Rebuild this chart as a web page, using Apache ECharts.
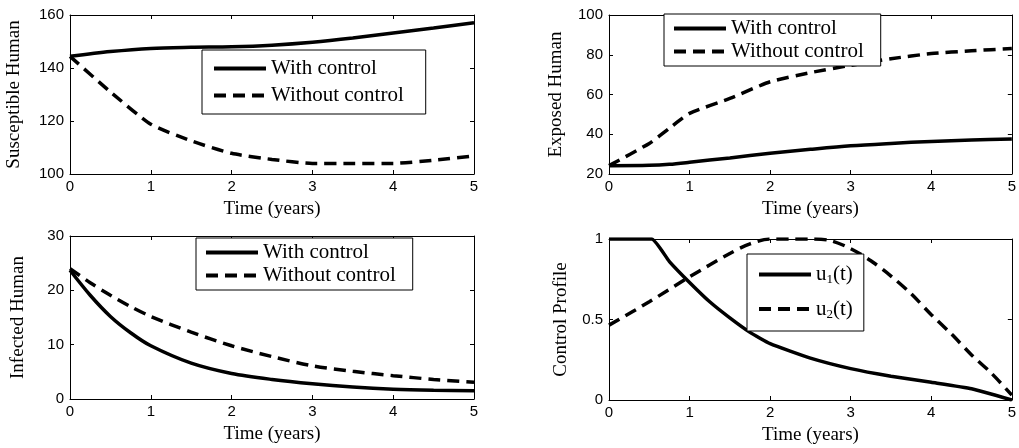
<!DOCTYPE html>
<html><head><meta charset="utf-8">
<script src="https://cdn.jsdelivr.net/npm/echarts@6/dist/echarts.min.js"></script>
<style>html,body{margin:0;padding:0;background:#fff}#c{width:1019px;height:448px}</style>
</head><body><div id="c"></div>
<script>
// Susceptible Human
const tS = [0, 0.5, 1, 1.5, 2, 2.5, 3, 3.5, 4, 4.5, 5];
const susWith = [144.4, 146.2, 147.4, 147.8, 148, 148.6, 149.7, 151.3, 153.2, 155.1, 157.1];
const susWithout = [144.4, 131, 118.8, 112.5, 107.8, 105.5, 104, 104, 104, 105.2, 106.8];
// Exposed Human
const tE = [0, 0.5, 0.75, 1, 1.5, 2, 2.5, 3, 3.5, 4, 4.5, 5];
const expWith = [24.2, 24.4, 24.9, 25.9, 28.1, 30.4, 32.4, 34.2, 35.4, 36.4, 37.1, 37.6];
const expWithout = [24.2, 35.4, 43, 50.5, 58, 66.4, 71, 74.7, 78, 80.6, 82, 83.1];
// Infected Human
const tI = [0, 0.25, 0.5, 0.75, 1, 1.5, 2, 2.5, 3, 3.5, 4, 4.5, 5];
const infWith = [23.7, 19.1, 15.2, 12.2, 9.8, 6.6, 4.7, 3.6, 2.8, 2.2, 1.8, 1.6, 1.5];
const infWithout = [24, 21.4, 19.1, 17, 15.2, 12.3, 9.8, 7.8, 6.1, 5.1, 4.3, 3.6, 3.1];
// Control profile
const tU1 = [0, 0.25, 0.53, 0.75, 1, 1.25, 1.5, 1.75, 2, 2.5, 3, 3.5, 4, 4.5, 5];
const u1 = [1, 1, 1, 0.86, 0.73, 0.61, 0.51, 0.42, 0.35, 0.26, 0.195, 0.148, 0.11, 0.07, 0];
const tU2 = [0, 0.5, 1, 1.5, 1.75, 2, 2.25, 2.5, 2.75, 3, 3.25, 3.5, 3.75, 4, 4.25, 4.5, 4.75, 5];
const u2 = [0.465, 0.61, 0.765, 0.91, 0.97, 1, 1, 1, 0.99, 0.94, 0.865, 0.77, 0.66, 0.53, 0.41, 0.28, 0.165, 0.03];

const xTicks = [0, 1, 2, 3, 4, 5];
const legendLabels = ['With control', 'Without control'];
const uLabels = ['u1', 'u2'];

function pairs(t, v) { return t.map((x, i) => [x, v[i]]); }

const grids = [
  { left: 70, top: 15, width: 404, height: 159 },
  { left: 609, top: 15, width: 406, height: 159 },
  { left: 70, top: 236, width: 404, height: 163 },
  { left: 609, top: 239, width: 406, height: 161 }
];
const yCfg = [
  { min: 100, max: 160, interval: 20, name: 'Susceptible Human', gap: 46 },
  { min: 20, max: 100, interval: 20, name: 'Exposed Human', gap: 43 },
  { min: 0, max: 30, interval: 10, name: 'Infected Human', gap: 42 },
  { min: 0, max: 1, interval: 0.5, name: 'Control Profile', gap: 38 }
];
const black = '#000';
const tickFont = { color: black, fontFamily: 'Liberation Sans, Arial, sans-serif', fontSize: 15 };
const nameFont = { color: black, fontFamily: 'Liberation Serif, Times New Roman, serif', fontSize: 19 };

const xAxis = [], yAxis = [];
grids.forEach((g, i) => {
  xAxis.push({
    type: 'value', gridIndex: i, min: 0, max: 5, interval: 1, position: 'bottom',
    name: 'Time (years)', nameLocation: 'middle', nameGap: 26, nameTextStyle: nameFont,
    axisLine: { show: true, onZero: false, lineStyle: { color: black, width: 1 } },
    axisTick: { show: true, inside: true, length: 4, lineStyle: { color: black } },
    axisLabel: Object.assign({ margin: 5 }, tickFont),
    splitLine: { show: false }
  });
  xAxis.push({
    type: 'value', gridIndex: i, min: 0, max: 5, interval: 1, position: 'top',
    axisLine: { show: true, onZero: false, lineStyle: { color: black, width: 1 } },
    axisTick: { show: true, inside: true, length: 4, lineStyle: { color: black } },
    axisLabel: { show: false }, splitLine: { show: false }
  });
  const y = yCfg[i];
  yAxis.push({
    type: 'value', gridIndex: i, min: y.min, max: y.max, interval: y.interval, position: 'left',
    name: y.name, nameLocation: 'middle', nameGap: y.gap, nameTextStyle: nameFont,
    axisLine: { show: true, onZero: false, lineStyle: { color: black, width: 1 } },
    axisTick: { show: true, inside: true, length: 4, lineStyle: { color: black } },
    axisLabel: Object.assign({ margin: 6 }, tickFont),
    splitLine: { show: false }
  });
  yAxis.push({
    type: 'value', gridIndex: i, min: y.min, max: y.max, interval: y.interval, position: 'right',
    axisLine: { show: true, onZero: false, lineStyle: { color: black, width: 1 } },
    axisTick: { show: true, inside: true, length: 4, lineStyle: { color: black } },
    axisLabel: { show: false }, splitLine: { show: false }
  });
});

function line(name, i, data, dashed, smooth) {
  return {
    type: 'line', name: name, xAxisIndex: 2 * i, yAxisIndex: 2 * i, data: data,
    showSymbol: false, symbol: 'none', smooth: smooth, animation: false,
    lineStyle: { color: black, width: 3.5, type: dashed ? [12, 7] : 'solid' },
    itemStyle: { color: black }
  };
}

const series = [
  line('With control', 0, pairs(tS, susWith), false, 0.3),
  line('Without control', 0, pairs(tS, susWithout), true, 0.2),
  line('With control', 1, pairs(tE, expWith), false, 0.3),
  line('Without control', 1, pairs(tE, expWithout), true, 0.2),
  line('With control', 2, pairs(tI, infWith), false, 0.3),
  line('Without control', 2, pairs(tI, infWithout), true, 0.3),
  line(uLabels[0], 3, pairs(tU1, u1), false, 0.15),
  line(uLabels[1], 3, pairs(tU2, u2), true, 0.3)
];

const legTextStyle = {
  color: black, fontFamily: 'Liberation Serif, Times New Roman, serif', fontSize: 21,
  rich: { sub: { fontSize: 13, verticalAlign: 'bottom', padding: [11, 0, 0, 0], fontFamily: 'Liberation Serif, serif', color: black },
          n: { fontSize: 21, fontFamily: 'Liberation Serif, serif', color: black } }
};
function legend(left, top, data, pad, gap, fmt) {
  return {
    left: left, top: top, orient: 'vertical', data: data, selectedMode: false,
    itemWidth: 52, itemHeight: 14, itemGap: gap, padding: pad,
    borderColor: black, borderWidth: 1, backgroundColor: '#fff',
    itemStyle: { opacity: 0 },
    lineStyle: { width: 4 },
    textStyle: legTextStyle, formatter: fmt
  };
}
const uFmt = function (n) { return '{n|u}{sub|' + n.slice(1) + '}{n|(t)}'; };

const option = {
  animation: false,
  backgroundColor: '#fff',
  grid: grids,
  xAxis: xAxis,
  yAxis: yAxis,
  legend: [
    legend(202, 50, legendLabels, [8, 22, 8, 10], 6),
    legend(664, 14, legendLabels, [4, 17, 4, 8], 2),
    legend(196, 238, legendLabels, [4, 17, 4, 8], 2),
    legend(747, 254, uLabels, [10, 11, 10, 10], 12, uFmt)
  ],
  series: series
};
const chart = echarts.init(document.getElementById('c'), null, { renderer: 'canvas' });
chart.setOption(option);
</script></body></html>
